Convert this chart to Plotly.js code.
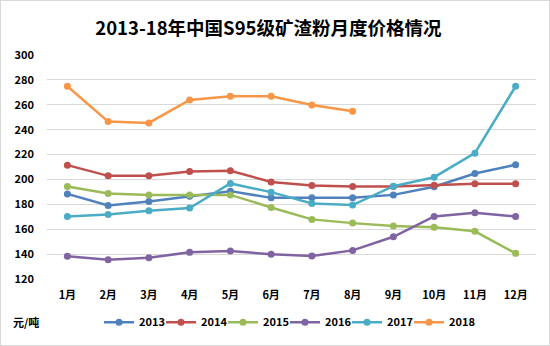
<!DOCTYPE html>
<html>
<head>
<meta charset="utf-8">
<script src="https://cdn.plot.ly/plotly-3.0.1.min.js"></script>
<style>
html,body{margin:0;padding:0;background:#fff;}
#wrap{position:relative;width:550px;height:346px;}
#chart{width:550px;height:346px;}
#frame{position:absolute;left:0;top:0;width:550px;height:346px;box-sizing:border-box;border:1px solid #d9d9d9;pointer-events:none;}
</style>
</head>
<body>
<div id="wrap"><div id="chart"></div><div id="frame"></div></div>
<script>
const months = ['1月','2月','3月','4月','5月','6月','7月','8月','9月','10月','11月','12月'];
const seriesNames = ['2013','2014','2015','2016','2017','2018'];
const colors = ['#4F81BD','#C0504D','#9BBB59','#8064A2','#4BACC6','#F79646'];
const v2013 = [188.4,179.1,182.3,186.4,190.6,185.2,185.2,185.2,187.6,194.1,204.8,211.8];
const v2014 = [211.5,202.9,202.9,206.4,206.9,198.0,195.2,194.4,194.4,195.4,196.5,196.5];
const v2015 = [194.4,188.8,187.4,187.4,187.6,177.5,167.9,164.9,162.5,161.5,158.3,140.6];
const v2016 = [138.2,135.5,137.1,141.4,142.5,139.8,138.4,143.0,153.9,170.3,173.2,170.3];
const v2017 = [170.3,171.9,174.8,177.0,196.8,189.8,180.7,179.4,194.6,201.8,221.1,274.9];
const v2018 = [274.9,246.5,245.4,263.9,266.9,266.9,259.9,254.8];
const yTicks = [120,140,160,180,200,220,240,260,280,300];

const allValues = [v2013,v2014,v2015,v2016,v2017,v2018];
const FONT = '"Noto Sans CJK SC", "Noto Sans", sans-serif';

const traces = allValues.map((vals,i)=>({
  type:'scatter', mode:'lines+markers',
  name: seriesNames[i],
  x: months.slice(0, vals.length),
  y: vals,
  line:{color:colors[i], width:2.5},
  marker:{color:colors[i], size:7}
}));
// invisible spacer entry so the last legend label is not clipped
traces.push({type:'scatter', mode:'lines', name:' ', x:[months[0]], y:[null], line:{width:0, color:'rgba(0,0,0,0)'}, hoverinfo:'skip'});

const layout = {
  width:550, height:346,
  margin:{l:47,r:14,t:55,b:67},
  paper_bgcolor:'#fff', plot_bgcolor:'#fff',
  font:{family:FONT, color:'#000', size:11},
  title:{text:'2013-18年中国S95级矿渣粉月度价格情况', x:0.488, xanchor:'center', y:0.918, yanchor:'middle',
         font:{family:FONT, size:18.5, weight:'bold', color:'#000'}},
  xaxis:{type:'category', categoryorder:'array', categoryarray:months, range:[-0.5,11.5],
         showgrid:false, zeroline:false, showline:false, ticks:'',
         ticklabelstandoff:8,
         tickfont:{family:FONT, size:11, weight:'bold', color:'#000'}, fixedrange:true},
  yaxis:{range:[120,300], tickvals:yTicks, ticktext:yTicks.map(String),
         showgrid:true, gridcolor:'#d9d9d9', gridwidth:1, zeroline:false, showline:false, ticks:'',
         ticklabelstandoff:12,
         tickfont:{family:FONT, size:11, weight:'bold', color:'#000'}, fixedrange:true},
  showlegend:true,
  legend:{orientation:'h', xref:'container', yref:'container', x:0.18, xanchor:'left', y:0.069, yanchor:'middle',
          entrywidth:17, entrywidthmode:'pixels',
          font:{family:FONT, size:11, weight:'bold', color:'#000'}, itemwidth:30, tracegroupgap:0},
  annotations:[{text:'元/吨', xref:'paper', yref:'paper', x:-0.074, xanchor:'left', y:-0.193, yanchor:'middle',
                showarrow:false, font:{family:FONT, size:11, weight:'bold', color:'#000'}}]
};
Plotly.newPlot('chart', traces, layout, {displayModeBar:false, staticPlot:true});
</script>
</body>
</html>
